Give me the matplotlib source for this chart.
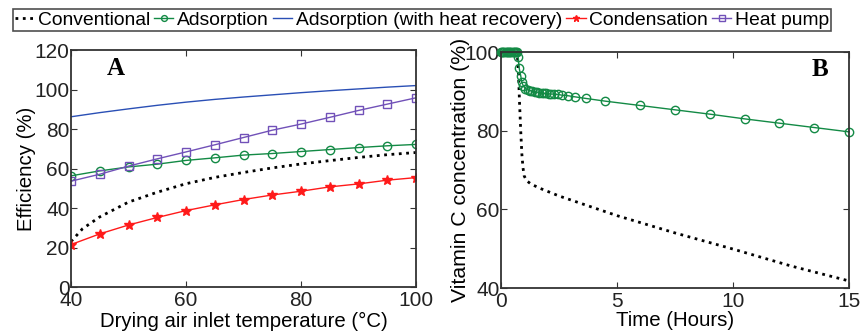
import numpy as np
import matplotlib
matplotlib.use('Agg')
import matplotlib.pyplot as plt

plt.rcParams['font.family'] = ['Liberation Sans', 'DejaVu Sans']

# Panel A: efficiency vs drying air inlet temperature
temp = [40, 45, 50, 55, 60, 65, 70, 75, 80, 85, 90, 95, 100]
adsorption = [56.3, 58.8, 60.8, 62.2, 64.1, 65.4, 66.8, 67.6, 68.6, 69.6, 70.6, 71.5, 72.2]
heat_pump = [53.6, 57.1, 61.2, 64.9, 68.4, 72.0, 75.7, 79.4, 82.5, 85.9, 89.4, 92.6, 95.8]
condensation = [21.5, 26.9, 31.4, 35.2, 38.7, 41.6, 44.3, 46.6, 48.5, 50.7, 52.2, 54.1, 55.4]
heat_recovery = [86.2, 88.3, 90.2, 92.0, 93.6, 95.0, 96.2, 97.3, 98.4, 99.4, 100.3, 101.2, 102.0]
temp_conv = [40, 42, 45, 50, 55, 60, 65, 70, 75, 80, 85, 90, 95, 100]
conventional = [23.0, 29.5, 35.5, 43.0, 48.0, 52.3, 55.5, 58.0, 60.3, 62.3, 64.0, 65.6, 67.0, 68.1]

# Panel B: vitamin C concentration vs time
t_ads = [0, 0.05, 0.1, 0.15, 0.2, 0.25, 0.3, 0.35, 0.4, 0.45, 0.5, 0.55, 0.6, 0.65,
         0.7, 0.74, 0.78, 0.85, 0.89, 0.96, 1.05, 1.15, 1.25, 1.35, 1.45, 1.55, 1.65,
         1.75, 1.85, 1.95, 2.05, 2.15, 2.3, 2.46, 2.65, 2.87, 3.19, 3.65, 4.5, 6.0,
         7.5, 9.0, 10.5, 12.0, 13.5, 15.0]
vitc_ads = [100, 100, 100, 100, 100, 100, 100, 100, 100, 100, 100, 100, 100, 100,
            100, 98.7, 96.0, 94.0, 92.5, 91.4, 90.7, 90.4, 90.2, 90.0, 89.9, 89.8, 89.7,
            89.6, 89.5, 89.5, 89.4, 89.3, 89.3, 89.2, 89.0, 88.9, 88.6, 88.2, 87.5, 86.4,
            85.3, 84.2, 83.0, 81.9, 80.8, 79.7]
t_conv = [0, 0.7, 0.75, 0.8, 0.85, 0.9, 0.95, 1.0, 1.1, 1.3, 1.7, 2.5, 5.0, 7.5, 10.0, 12.5, 15.0]
vitc_conv = [100, 100, 95.0, 87.0, 80.0, 74.0, 70.5, 68.5, 67.3, 66.4, 65.3, 63.4, 58.4,
             54.0, 49.9, 45.6, 41.8]

green = '#138a45'
blue = '#2a4fb5'
purple = '#7151b8'
red = '#ff1a1a'

fig = plt.figure(figsize=(8.62, 3.31), dpi=100)
ax1 = fig.add_axes([0.0824, 0.1329, 0.4002, 0.716])
ax2 = fig.add_axes([0.5812, 0.1299, 0.4037, 0.713])

l_conv, = ax1.plot(temp_conv, conventional, color='k', linestyle=':', linewidth=2, label='Conventional')
l_ads, = ax1.plot(temp, adsorption, color=green, marker='o', markersize=6, markerfacecolor='none',
                  linewidth=1, label='Adsorption')
l_hr, = ax1.plot(temp, heat_recovery, color=blue, linewidth=1, label='Adsorption (with heat recovery)')
l_cond, = ax1.plot(temp, condensation, color=red, marker='*', markersize=7, linewidth=1,
                   label='Condensation')
l_hp, = ax1.plot(temp, heat_pump, color=purple, marker='s', markersize=6, markerfacecolor='none',
                 linewidth=1, label='Heat pump')

ax2.plot(t_conv, vitc_conv, color='k', linestyle=':', linewidth=2, clip_on=False)
ax2.plot(t_ads, vitc_ads, color=green, marker='o', markersize=6, markerfacecolor='none',
         linewidth=1, clip_on=False)

ax1.set_xlim(40, 100)
ax1.set_ylim(0, 120)
ax1.set_xticks([40, 60, 80, 100])
ax1.set_yticks(range(0, 121, 20))
ax1.set_xlabel('Drying air inlet temperature (°C)', fontsize=14.7, labelpad=1.5)
ax1.set_ylabel('Efficiency (%)', fontsize=14.7, labelpad=-1)

ax2.set_xlim(0, 15)
ax2.set_ylim(40, 100)
ax2.set_xticks([0, 5, 10, 15])
ax2.set_yticks([40, 60, 80, 100])
ax2.set_xlabel('Time (Hours)', fontsize=14.7, labelpad=0)
ax2.set_ylabel('Vitamin C concentration (%)', fontsize=15.3, labelpad=-4)

for ax in (ax1, ax2):
    ax.tick_params(direction='in', top=True, right=True, labelsize=15, length=4,
                   width=0.8, color='#333333', labelcolor='#222222')
    ax.tick_params(axis='x', pad=3)
    ax.tick_params(axis='y', pad=1)
    for s in ax.spines.values():
        s.set_linewidth(1.3)
        s.set_color('#333333')

ax1.text(0.13, 0.92, 'A', transform=ax1.transAxes, fontsize=18, fontweight='bold',
         family='Liberation Serif', ha='center', va='center')
ax2.text(0.917, 0.924, 'B', transform=ax2.transAxes, fontsize=18, fontweight='bold',
         family='Liberation Serif', ha='center', va='center')

leg = fig.legend(handles=[l_conv, l_ads, l_hr, l_cond, l_hp], loc='upper center',
                 bbox_to_anchor=(0.4896, 0.972), ncol=5, fontsize=13.9, frameon=True,
                 fancybox=False, edgecolor='#222222', handlelength=1.0, handletextpad=0.2,
                 columnspacing=0.2, borderpad=0.1, borderaxespad=0.0, markerscale=0.7)
leg.get_frame().set_linewidth(1.2)

fig.savefig('out.png', dpi=100)
